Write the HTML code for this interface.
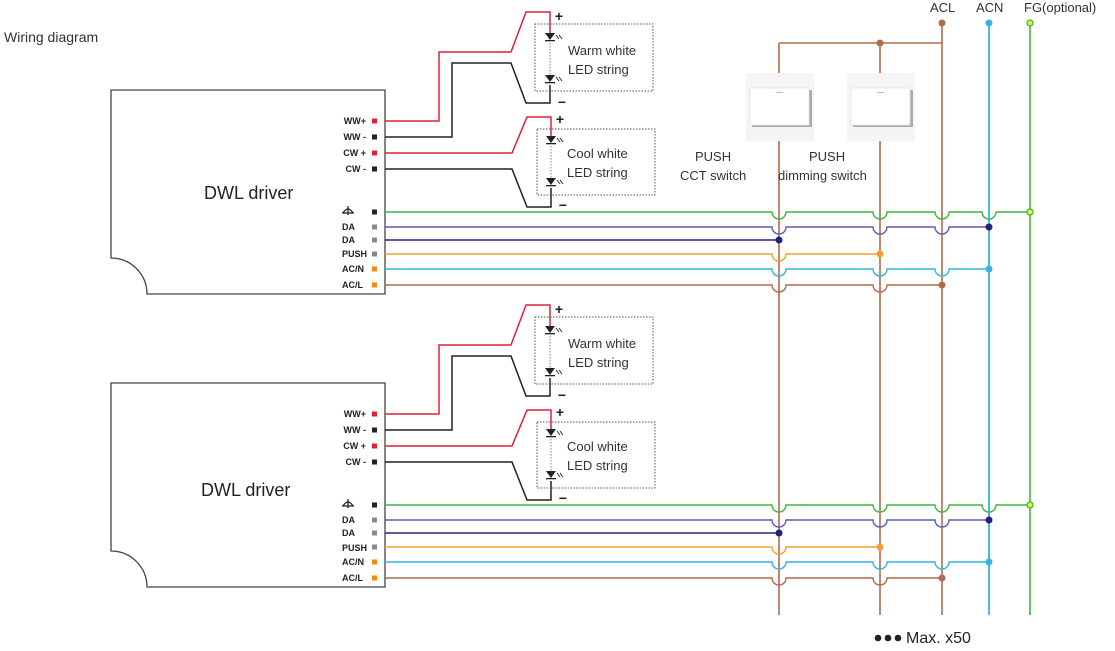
<!DOCTYPE html>
<html><head><meta charset="utf-8"><style>
html,body{margin:0;padding:0;background:#fff;width:1115px;height:651px;overflow:hidden}
svg{display:block;font-family:"Liberation Sans",sans-serif}
.lbl{font-size:9px;font-weight:bold;fill:#222}
.t{font-size:13px;fill:#333}
</style></head><body>
<svg id="s" width="1115" height="651" viewBox="0 0 1115 651" xmlns="http://www.w3.org/2000/svg">
<g id="g"></g>
<text x="4" y="42" class="t" style="font-size:14px">Wiring diagram</text>
<text x="204" y="199" style="font-size:18px;fill:#222">DWL driver</text>
<text x="366" y="124" class="lbl" text-anchor="end">WW+</text>
<text x="366" y="140" class="lbl" text-anchor="end">WW -</text>
<text x="366" y="156" class="lbl" text-anchor="end">CW +</text>
<text x="366" y="172" class="lbl" text-anchor="end">CW -</text>
<text x="342" y="230" class="lbl">DA</text>
<text x="342" y="243" class="lbl">DA</text>
<text x="342" y="257" class="lbl">PUSH</text>
<text x="342" y="272" class="lbl">AC/N</text>
<text x="342" y="288" class="lbl">AC/L</text>
<text x="568" y="55" class="t">Warm white</text>
<text x="568" y="74" class="t">LED string</text>
<text x="567" y="158" class="t">Cool white</text>
<text x="567" y="177" class="t">LED string</text>
<text x="201" y="496" style="font-size:18px;fill:#222">DWL driver</text>
<text x="366" y="417" class="lbl" text-anchor="end">WW+</text>
<text x="366" y="433" class="lbl" text-anchor="end">WW -</text>
<text x="366" y="449" class="lbl" text-anchor="end">CW +</text>
<text x="366" y="465" class="lbl" text-anchor="end">CW -</text>
<text x="342" y="523" class="lbl">DA</text>
<text x="342" y="536" class="lbl">DA</text>
<text x="342" y="551" class="lbl">PUSH</text>
<text x="342" y="565" class="lbl">AC/N</text>
<text x="342" y="581" class="lbl">AC/L</text>
<text x="568" y="348" class="t">Warm white</text>
<text x="568" y="367" class="t">LED string</text>
<text x="567" y="451" class="t">Cool white</text>
<text x="567" y="470" class="t">LED string</text>
<text x="695" y="161" class="t">PUSH</text>
<text x="680" y="180" class="t">CCT switch</text>
<text x="809" y="161" class="t">PUSH</text>
<text x="778" y="180" class="t">dimming switch</text>
<text x="930" y="12" class="t">ACL</text>
<text x="976" y="12" class="t">ACN</text>
<text x="1024" y="12" class="t">FG(optional)</text>
<text x="906" y="643" style="font-size:16px;fill:#222">Max. x50</text>
</svg>
<script>
var g=document.getElementById('g'),NS='http://www.w3.org/2000/svg';
function el(t,a){var e=document.createElementNS(NS,t);for(var k in a)e.setAttribute(k,a[k]);g.appendChild(e);return e;}
function P(d,c,w,extra){var a={d:d,fill:'none',stroke:c,'stroke-width':w||1.4};for(var k in extra)a[k]=extra[k];return el('path',a);}
var RED='#e0203a',BLK='#222',GRN='#3cb83c',PUR='#5c5cb0',NAV='#22227e',ORG='#f4a030',CYA='#30b4e4',BRN='#b06a4c';
var VX=[779,880,942,989,1030];
P('M779 43V615',BRN,1.6);P('M880 43V615',BRN,1.6);P('M779 43H942',BRN,1.6);
P('M942 22V615',BRN,1.6);P('M989 22V615',CYA,1.8);P('M1030 22V615',GRN,1.6);
el('circle',{cx:942,cy:23,r:3.5,fill:BRN});el('circle',{cx:989,cy:23,r:3.5,fill:CYA});
el('circle',{cx:1030,cy:23,r:3,fill:'#e8f040',stroke:GRN,'stroke-width':1.3});
el('circle',{cx:880,cy:43,r:3.5,fill:BRN});
[780,881].forEach(function(cx){
 el('rect',{x:cx-34,y:73,width:68,height:68,fill:'#f5f5f5'});
 el('rect',{x:cx-28,y:90,width:60,height:37,fill:'#aaa',rx:1});
 el('rect',{x:cx-30,y:88,width:59,height:37,fill:'#fff',stroke:'#e4e4e4','stroke-width':0.8});
 el('rect',{x:cx-4,y:92,width:7,height:1,fill:'#9cc'});
});
function hline(y,col,end,dot,dotStyle){
 var d='M385 '+y;
 VX.forEach(function(v){if(v<end){d+='H'+(v-7)+'a7 7 0 0 0 14 0';}});
 d+='H'+end;P(d,col,1.4);
 if(dot){if(dotStyle)el('circle',{cx:end,cy:y,r:3,fill:'#e8f040',stroke:GRN,'stroke-width':1.3});
 else el('circle',{cx:end,cy:y,r:3.5,fill:col});}
}
function led(x,y){
 el('path',{d:'M'+(x-5)+' '+y+'h10l-5 7z',fill:BLK});
 el('rect',{x:x-5,y:y+7,width:10,height:1.3,fill:BLK});
 P('M'+(x+6)+' '+(y+2)+'l3 4M'+(x+9)+' '+(y+2)+'l3 4',BLK,0.9);
}
function block(o){
 P('M111 '+(90+o)+'H385V'+(294+o)+'H147A36 36 0 0 0 111 '+(258+o)+'Z','#444',1.3,{fill:'#fff'});
 P('M385 '+(121+o)+'H439V'+(52+o)+'H511L526 '+(12+o)+'H550V'+(35+o),RED,1.5);
 P('M385 '+(137+o)+'H452V'+(63+o)+'H511L526 '+(103+o)+'H550V'+(85+o),BLK,1.5);
 P('M385 '+(153+o)+'H512L527 '+(117+o)+'H551V'+(138+o),RED,1.5);
 P('M385 '+(169+o)+'H512L527 '+(207+o)+'H551V'+(188+o),BLK,1.5);
 el('rect',{x:535,y:24+o,width:118,height:67,fill:'none',stroke:'#555','stroke-width':1,'stroke-dasharray':'1.5 1.5'});
 el('rect',{x:537,y:129+o,width:118,height:66,fill:'none',stroke:'#555','stroke-width':1,'stroke-dasharray':'1.5 1.5'});
 P('M550 '+(43+o)+'V'+(75+o),'#888',1,{'stroke-dasharray':'1.5 1.5'});
 P('M551 '+(146+o)+'V'+(178+o),'#888',1,{'stroke-dasharray':'1.5 1.5'});
 led(550,33+o);led(550,75+o);led(551,136+o);led(551,178+o);
 [[559,21],[562,107],[560,124],[563,210]].forEach(function(p,i){
  var t=el('text',{x:p[0],y:p[1]+o,'font-size':14,'font-weight':'bold',fill:'#222','text-anchor':'middle'});
  t.textContent=(i%2==0)?'+':'\u2212';});
 var rows=[[121,RED],[137,BLK],[153,RED],[169,BLK],[212,BLK],[227,'#888'],[240,'#888'],[254,'#888'],[269,'#f08c10'],[285,'#f08c10']];
 rows.forEach(function(r){el('rect',{x:372,y:r[0]+o-2.5,width:5,height:5,fill:r[1]});});
 var gx=348,gy=212+o;
 P('M'+gx+' '+(gy-6)+'V'+(gy+3)+'M'+(gx-6)+' '+(gy+1)+'H'+(gx+6),BLK,1.3);
 P('M'+(gx-5)+' '+(gy+1)+'Q'+gx+' '+(gy-7)+' '+(gx+5)+' '+(gy+1),BLK,1.3);
 hline(212+o,GRN,1030,true,true);
 hline(227+o,PUR,989,false);el('circle',{cx:989,cy:227+o,r:3.5,fill:NAV});
 hline(240+o,NAV,779,true);
 hline(254+o,ORG,880,true);
 hline(269+o,CYA,989,true);
 hline(285+o,BRN,942,true);
}
block(0);block(293);
[878,888,898].forEach(function(x){el('circle',{cx:x,cy:638,r:3.3,fill:'#222'});});
</script>
</body></html>
